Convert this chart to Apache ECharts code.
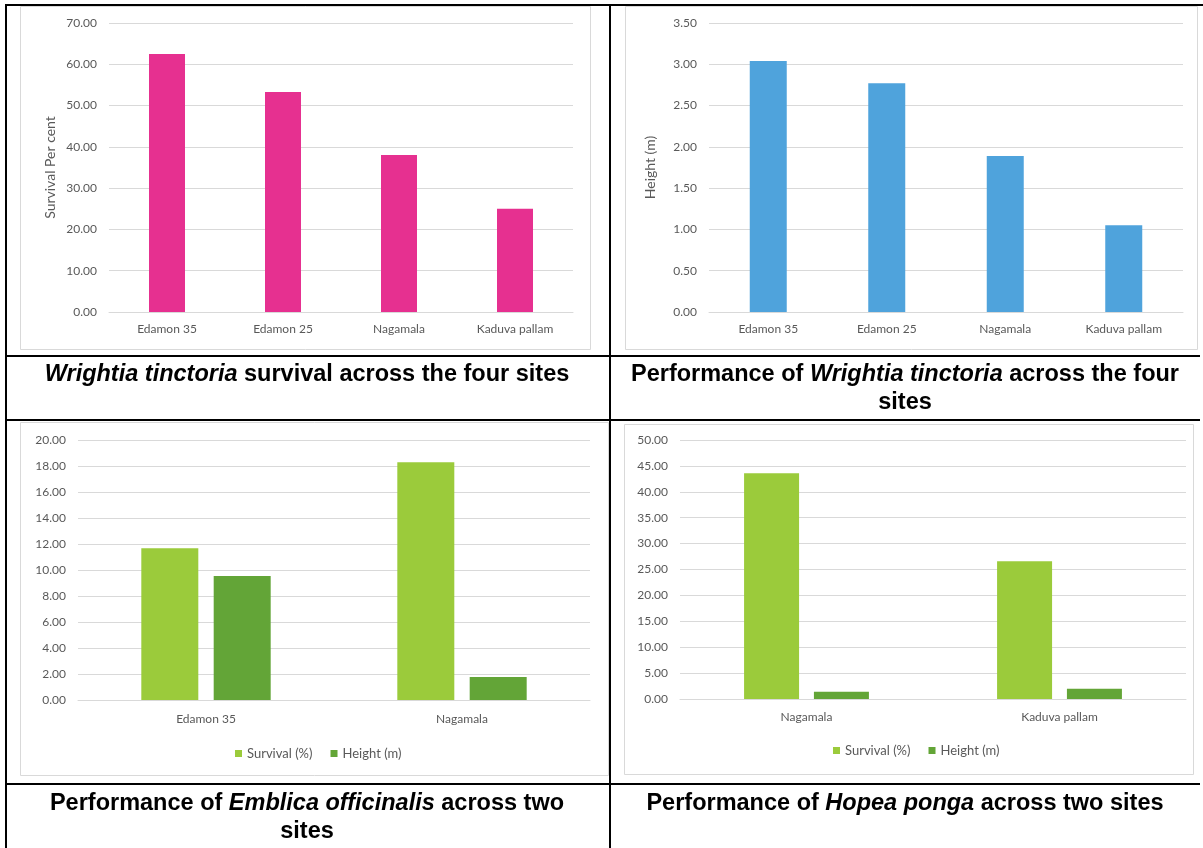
<!DOCTYPE html>
<html>
<head>
<meta charset="utf-8">
<script src="https://cdn.jsdelivr.net/npm/echarts@6/dist/echarts.min.js"></script>
<style>
html,body{margin:0;padding:0;background:#fff;}
#c{width:1203px;height:848px;}
</style>
</head>
<body>
<div id="c"></div>
<script>
// ---- data ----
const sites4 = ['Edamon 35', 'Edamon 25', 'Nagamala', 'Kaduva pallam'];
const wtSurvival = [62.5, 53.3, 38.0, 25.0];
const wtHeight = [3.04, 2.77, 1.89, 1.05];
const eoSites = ['Edamon 35', 'Nagamala'];
const eoSurvival = [11.67, 18.28];
const eoHeight = [9.54, 1.77];
const hpSites = ['Nagamala', 'Kaduva pallam'];
const hpSurvival = [43.6, 26.6];
const hpHeight = [1.4, 2.0];
const legendNames = ['Survival (%)', 'Height (m)'];

const FONT = 'Lato, "Open Sans", sans-serif';
const TXT = '#595959';
const GRID = '#d9d9d9';

function yAxis(idx, max, interval, name) {
  return {
    type: 'value', gridIndex: idx, min: 0, max: max, interval: interval,
    name: name || '', nameLocation: 'middle', nameGap: 52, nameRotate: 90,
    nameTextStyle: {color: TXT, fontFamily: FONT, fontSize: 14},
    axisLine: {show: false}, axisTick: {show: false},
    axisLabel: {color: TXT, fontFamily: FONT, fontSize: 12, margin: 12,
      formatter: v => v.toFixed(2)},
    splitLine: {lineStyle: {color: GRID, width: 1}}
  };
}
function xAxis(idx, data, margin) {
  return {
    type: 'category', gridIndex: idx, data: data,
    axisLine: {lineStyle: {color: GRID, width: 1}},
    axisTick: {show: false},
    axisLabel: {color: TXT, fontFamily: FONT, fontSize: 12, margin: margin}
  };
}

const captionStyle = (x, y, text) => ({
  type: 'text', x: x, y: y,
  style: {
    text: text, fill: '#000', fontFamily: 'Arial, "Liberation Sans", sans-serif',
    fontSize: 23.5, fontWeight: 'bold', align: 'center', verticalAlign: 'middle',
    rich: {i: {fontStyle: 'italic', fontWeight: 'bold', fontSize: 23.5,
      fontFamily: 'Arial, "Liberation Sans", sans-serif', fill: '#000'}}
  }
});
const rectFrame = (x, y, w, h) => ({
  type: 'rect', shape: {x: x + 0.5, y: y + 0.5, width: w, height: h},
  style: {fill: 'none', stroke: GRID, lineWidth: 1}, z: -1
});
const bline = (x1, y1, x2, y2) => ({
  type: 'line', shape: {x1: x1, y1: y1, x2: x2, y2: y2},
  style: {stroke: '#000', lineWidth: 2}, z: 10
});
const legendCfg = (left, top) => ({
  data: legendNames, left: left, top: top, itemWidth: 7, itemHeight: 7, icon: 'rect',
  itemGap: 18, textStyle: {color: TXT, fontFamily: FONT, fontSize: 13}
});

const chart = echarts.init(document.getElementById('c'), null, {renderer: 'canvas'});
chart.setOption({
  animation: false,
  backgroundColor: '#fff',
  grid: [
    {left: 109, top: 23, width: 464, height: 289},
    {left: 709, top: 23, width: 474, height: 289},
    {left: 78, top: 440, width: 512, height: 260},
    {left: 680, top: 440, width: 506, height: 259}
  ],
  xAxis: [
    xAxis(0, sites4, 11),
    xAxis(1, sites4, 11),
    xAxis(2, eoSites, 13),
    xAxis(3, hpSites, 12)
  ],
  yAxis: [
    yAxis(0, 70, 10, 'Survival Per cent'),
    yAxis(1, 3.5, 0.5, 'Height (m)'),
    yAxis(2, 20, 2),
    yAxis(3, 50, 5)
  ],
  legend: [legendCfg(230, 742), legendCfg(828, 739)],
  series: [
    {type: 'bar', name: 'Survival Per cent', xAxisIndex: 0, yAxisIndex: 0, data: wtSurvival,
      barWidth: 36, itemStyle: {color: '#E63090'}},
    {type: 'bar', name: 'Height', xAxisIndex: 1, yAxisIndex: 1, data: wtHeight,
      barWidth: 37, itemStyle: {color: '#4FA3DC'}},
    {type: 'bar', name: legendNames[0], xAxisIndex: 2, yAxisIndex: 2, data: eoSurvival,
      barWidth: 57, barGap: '27%', itemStyle: {color: '#9BCB3B'}},
    {type: 'bar', name: legendNames[1], xAxisIndex: 2, yAxisIndex: 2, data: eoHeight,
      barWidth: 57, barGap: '27%', itemStyle: {color: '#63A537'}},
    {type: 'bar', name: legendNames[0], xAxisIndex: 3, yAxisIndex: 3, data: hpSurvival,
      barWidth: 55, barGap: '27%', itemStyle: {color: '#9BCB3B'}},
    {type: 'bar', name: legendNames[1], xAxisIndex: 3, yAxisIndex: 3, data: hpHeight,
      barWidth: 55, barGap: '27%', itemStyle: {color: '#63A537'}}
  ],
  graphic: [
    rectFrame(20, 6, 570, 343),
    rectFrame(625, 6, 572, 343),
    rectFrame(20, 422, 588, 353),
    rectFrame(624, 424, 569, 350),
    bline(5, 5, 1203, 5),
    bline(5, 356, 1200, 356),
    bline(5, 420, 1200, 420),
    bline(5, 784, 1200, 784),
    bline(6, 4, 6, 848),
    bline(610, 4, 610, 848),
    captionStyle(307, 375, '{i|Wrightia tinctoria} survival across the four sites'),
    captionStyle(905, 375, 'Performance of {i|Wrightia tinctoria} across the four'),
    captionStyle(905, 403, 'sites'),
    captionStyle(307, 804, 'Performance of {i|Emblica officinalis} across two'),
    captionStyle(307, 832, 'sites'),
    captionStyle(905, 804, 'Performance of {i|Hopea ponga} across two sites')
  ]
});
</script>
</body>
</html>
